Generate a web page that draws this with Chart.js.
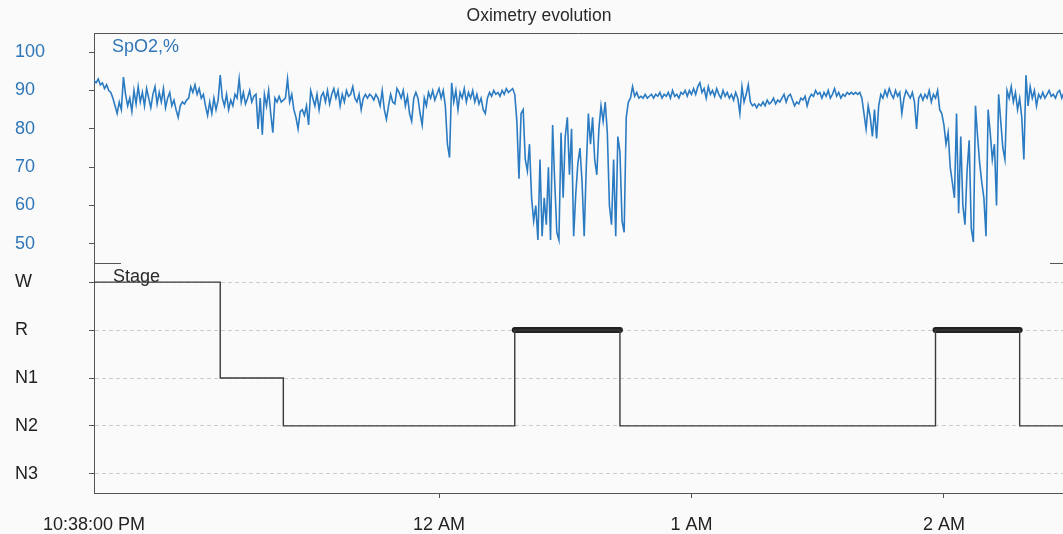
<!DOCTYPE html>
<html lang="en">
<head>
<meta charset="UTF-8">
<title>Oximetry evolution</title>
<script src="https://cdn.jsdelivr.net/npm/chart.js@4.4.1/dist/chart.umd.min.js"></script>
<style>
  html, body { margin: 0; padding: 0; background: #fafafa; }
  .wrap { width: 1063px; height: 534px; }
</style>
</head>
<body>
<div class="wrap"><canvas id="oxChart"></canvas></div>
<script>
// recording window
const recordStart = '22:38';
const recordEnd = '02:29';
const X_MAX = 230.3;   // minutes shown after recordStart

// SpO2 samples, one every 30 s from recordStart
const spo2StepMin = 0.5;
const spo2Values = [
  92.5, 92, 93, 91.5, 92, 90.5, 91.5, 90,
  89.5, 88, 86, 84, 87, 85,
  93.5,
  89, 86, 88, 84.5, 90, 86.5,
  91, 87, 89.5, 86, 90.5, 88, 85.5, 89, 91, 86.5, 89.5, 87, 90.5, 85.5, 88, 89.5, 86, 87.5, 85, 83,
  86, 87, 86.5, 87.5, 88, 91, 89.5,
  91.5, 89, 90.5, 88, 89, 86,
  83.5, 87, 84, 88, 85, 87.5, 94,
  88, 86, 89, 85, 87.5, 86, 89,
  88, 93, 87, 89.5, 86.5, 88, 90, 87, 88.5, 89,
  80, 88, 78.5, 89, 86, 90, 84, 79, 88, 87,
  88.5, 87, 87.5, 88, 93, 87, 89, 85, 83, 80,
  84.5, 85, 83.5, 86, 81, 90, 88, 86, 89, 85,
  88.5, 89.5, 87, 90, 86.5, 89, 90.5, 88, 90, 86,
  89, 87, 90, 88.5, 89, 91, 88, 87, 89, 85,
  88, 89, 88, 89, 88.5, 87.5, 89, 88, 86, 90,
  85, 82.5, 86, 89, 87, 86.5, 90.5, 89.5, 88, 90,
  86, 88.5, 84, 82, 88, 89.5, 88,
  84, 81, 88, 86, 89.5,
  88, 90, 87.5, 89, 90.5, 88, 90, 86, 76, 72.5,
  92, 87, 90, 85, 89.5, 88, 90.5, 87, 89.5, 88,
  90, 87, 89, 86.5, 88, 85, 84, 88, 89.5, 88.5,
  90, 89, 89.5, 88.5, 90, 89, 90.5, 89.5, 90, 90.5,
  89, 82, 67, 84, 85, 72, 69, 76, 62, 56,
  60, 51, 72, 52, 62, 55, 70, 51, 81, 66,
  53, 51, 79, 62, 78, 83, 68, 80, 52, 63,
  71, 75, 66,
  52, 70, 84, 76, 83, 72, 68,
  80, 86, 82, 87, 79, 60, 55, 72, 52, 78,
  74, 56, 53, 83, 87, 88, 91, 88.5, 89.5, 88,
  88.5, 88, 89, 88, 88.5, 89, 88, 89, 88.5, 89.5,
  88, 89, 88.5, 89.5, 88, 90, 88.5, 89, 88, 89.5,
  89, 90, 88.5, 90, 89, 90.5, 89, 91, 92, 89.5,
  90.5, 88, 91, 89, 90, 88.5, 90.5, 89, 88, 90,
  88.5, 89.5, 88, 89, 87.5, 89.5, 88, 84, 91, 87,
  89,
  91.5, 87, 86, 86.5, 85.5, 86.5, 86, 87, 86,
  87.5, 86.5, 87, 88, 86.5, 87.5, 87, 88, 89, 87,
  88.5, 89, 87.5, 86, 87, 86.5, 88, 87.5, 88.5, 86,
  88, 89, 88.5, 90, 89, 89.5, 88, 89.5, 88.5, 90,
  88, 89, 90.5, 88.5, 89.5, 88, 89, 88.5, 89.5, 89,
  89.5, 89, 89.5, 89, 89.5, 88, 84, 80, 86, 83,
  78, 85, 77.5, 86, 89, 88, 90, 88.5, 90.5, 89,
  88, 90, 88.5, 89.5, 84, 88, 90, 89,
  88, 89.5,
  87, 80, 88, 89, 87.5, 89, 88, 90, 87, 89,
  88, 90, 85, 84, 81, 76, 79, 70, 66, 62,
  84, 58, 78, 60, 55, 69, 77, 54, 50.5, 86,
  78, 71, 66, 62, 52, 85, 79, 72, 76, 60,
  89, 82, 75, 72, 90, 88, 91, 87, 89.5, 85,
  88, 83, 72, 94, 86, 91, 88, 90, 86, 89,
  88, 89.5, 88, 89, 90, 88.5, 89, 88, 89.5, 90,
  88, 89.5, 88.5
];
const spo2Ticks = [50, 60, 70, 80, 90, 100];

// hypnogram: stage entered at each time
const stageLabels = ['W', 'R', 'N1', 'N2', 'N3'];
const stageTimes = ['22:38', '23:08', '23:23', '00:18', '00:43', '01:58', '02:18'];
const stageValues = ['W', 'N1', 'N2', 'R', 'N2', 'R', 'N2'];

// time axis
const xTickTimes = ['22:38', '00:00', '01:00', '02:00'];
const xTickLabels = ['10:38:00 PM', '12 AM', '1 AM', '2 AM'];

const FONT = "'Liberation Sans', Arial, sans-serif";
const BLUE = '#2f76b8';

function minutesFromStart(t) {
  const [h, m] = t.split(':').map(Number);
  const [h0, m0] = recordStart.split(':').map(Number);
  let d = (h * 60 + m) - (h0 * 60 + m0);
  if (d < 0) d += 24 * 60;
  return d;
}
const stageY = s => stageLabels.length - 1 - stageLabels.indexOf(s);

const spo2Points = spo2Values.map((v, i) => ({ x: i * spo2StepMin, y: v }));

const stagePoints = stageTimes.map((t, i) => ({ x: minutesFromStart(t), y: stageY(stageValues[i]) }));
stagePoints.push({ x: minutesFromStart(recordEnd), y: stageY(stageValues[stageValues.length - 1]) });

// thick bars over the REM periods
const remPoints = [];
stageValues.forEach((s, i) => {
  if (s !== 'R') return;
  const x0 = minutesFromStart(stageTimes[i]);
  const x1 = minutesFromStart(i + 1 < stageTimes.length ? stageTimes[i + 1] : recordEnd);
  remPoints.push({ x: x0, y: stageY('R') }, { x: x1, y: stageY('R') }, { x: x1, y: null });
});

// frame line on top, panel separator and the in-plot captions
const panelDecor = {
  id: 'panelDecor',
  afterDatasetsDraw(chart) {
    const { ctx, chartArea: a, scales } = chart;
    const sep = Math.round(scales.ySpo2.bottom) + 0.5;
    ctx.save();
    ctx.strokeStyle = '#555';
    ctx.lineWidth = 1;
    ctx.beginPath();
    ctx.moveTo(a.left, Math.round(a.top) + 0.5);
    ctx.lineTo(a.right, Math.round(a.top) + 0.5);
    ctx.moveTo(a.left, sep);
    ctx.lineTo(a.left + 27, sep);
    ctx.moveTo(a.right - 13, sep);
    ctx.lineTo(a.right, sep);
    ctx.stroke();
    ctx.font = '18px ' + FONT;
    ctx.textBaseline = 'alphabetic';
    ctx.fillStyle = BLUE;
    ctx.fillText('SpO2,%', a.left + 18, a.top + 19);
    ctx.fillStyle = '#2a2a2a';
    ctx.fillText('Stage', a.left + 19, sep + 18);
    ctx.restore();
  }
};

new Chart(document.getElementById('oxChart'), {
  type: 'line',
  data: {
    datasets: [
      {
        label: 'SpO2',
        data: spo2Points,
        yAxisID: 'ySpo2',
        borderColor: '#2b7bc2',
        borderWidth: 1.6,
        pointRadius: 0,
        tension: 0
      },
      {
        label: 'Stage',
        data: stagePoints,
        yAxisID: 'yStage',
        stepped: true,
        borderColor: '#3a3a3a',
        borderWidth: 1.4,
        pointRadius: 0
      },
      {
        label: 'REM',
        data: remPoints,
        yAxisID: 'yStage',
        borderColor: '#222',
        borderWidth: 6,
        borderCapStyle: 'round',
        spanGaps: false,
        pointRadius: 0
      }
    ]
  },
  options: {
    responsive: true,
    maintainAspectRatio: false,
    animation: false,
    layout: { padding: { left: 15, right: 0, top: 0, bottom: 0 } },
    plugins: {
      legend: { display: false },
      tooltip: { enabled: false },
      title: {
        display: true,
        text: 'Oximetry evolution',
        color: '#2a2a2a',
        font: { family: FONT, size: 17.5, weight: 'normal' },
        padding: { top: 6, bottom: 6 }
      }
    },
    scales: {
      x: {
        type: 'linear',
        min: 0,
        max: X_MAX,
        afterBuildTicks: s => { s.ticks = xTickTimes.map(t => ({ value: minutesFromStart(t) })); },
        afterFit: s => { s.height = 41; },
        grid: {
          drawOnChartArea: false,
          tickLength: 5,
          tickColor: c => c.index === 0 ? 'rgba(0,0,0,0)' : '#555'
        },
        border: { color: '#555' },
        ticks: {
          autoSkip: false,
          maxRotation: 0,
          padding: 16,
          color: '#222',
          font: { family: FONT, size: 18 },
          callback: (v, i) => xTickLabels[i]
        }
      },
      yStage: {
        type: 'linear',
        position: 'left',
        stack: 'panels',
        stackWeight: 1,
        min: -0.4,
        max: 4.4,
        afterBuildTicks: s => { s.ticks = stageLabels.map((_, i) => ({ value: i })); },
        afterFit: s => { s.width = 79; },
        grid: { color: '#cdcdcd', lineWidth: 1, tickLength: 5, tickColor: '#555' },
        border: { color: '#555', dash: [4, 3] },
        ticks: {
          crossAlign: 'far',
          color: '#222',
          font: { family: FONT, size: 18 },
          callback: v => stageLabels[stageLabels.length - 1 - v]
        }
      },
      ySpo2: {
        type: 'linear',
        position: 'left',
        stack: 'panels',
        stackWeight: 1,
        min: 45,
        max: 105,
        afterBuildTicks: s => { s.ticks = spo2Ticks.map(v => ({ value: v })); },
        afterFit: s => { s.width = 79; },
        grid: { drawOnChartArea: false, tickLength: 5, tickColor: '#555' },
        border: { color: '#555' },
        ticks: {
          crossAlign: 'far',
          color: BLUE,
          font: { family: FONT, size: 18 }
        }
      }
    }
  },
  plugins: [panelDecor]
});
</script>
</body>
</html>
